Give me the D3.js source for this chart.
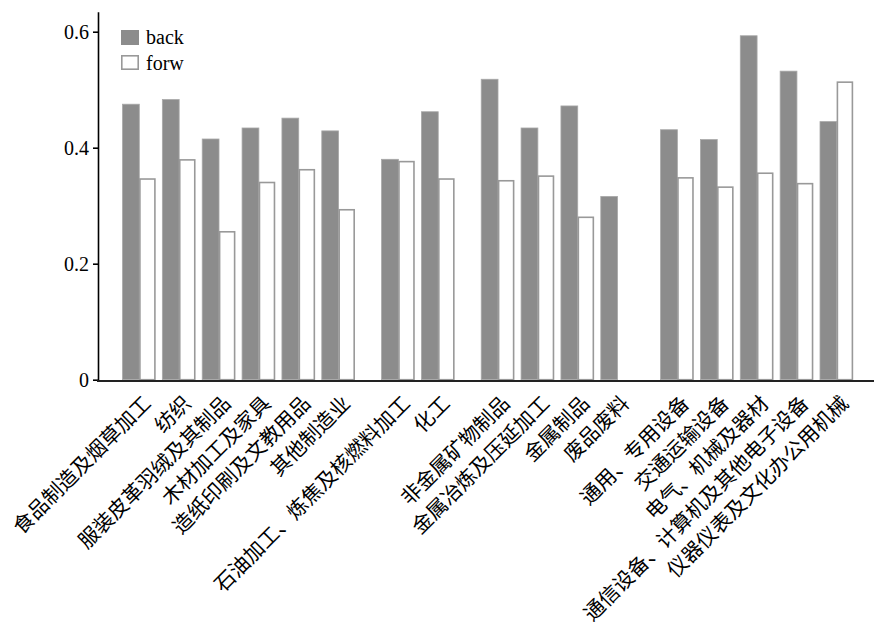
<!DOCTYPE html>
<html>
<head>
<meta charset="utf-8">
<script src="https://cdn.jsdelivr.net/npm/d3@7"></script>
<style>
body { margin:0; background:#fff; }
text { font-family: "Liberation Serif", "DejaVu Serif", serif; }
.cat { font-family: "Noto Sans CJK SC", sans-serif; }
</style>
</head>
<body>
<div id="graph"></div>
<script>
// industries, in order left to right
var categories = ["食品制造及烟草加工","纺织","服装皮革羽绒及其制品","木材加工及家具","造纸印刷及文教用品","其他制造业",
	"石油加工、炼焦及核燃料加工","化工",
	"非金属矿物制品","金属冶炼及压延加工","金属制品","废品废料",
	"通用、专用设备","交通运输设备","电气、机械及器材","通信设备、计算机及其他电子设备","仪器仪表及文化办公用机械"];
// which block each industry belongs to (gaps between blocks)
var groups = [0,0,0,0,0,0, 1,1, 2,2,2,2, 3,3,3,3,3];
var back = [0.475,0.483,0.415,0.434,0.451,0.429, 0.380,0.462, 0.518,0.434,0.472,0.316, 0.431,0.414,0.593,0.532,0.445];
var forw = [0.346,0.379,0.255,0.340,0.362,0.293, 0.376,0.346, 0.343,0.351,0.280,0, 0.348,0.332,0.356,0.338,0.513];
var yTicks = [0,0.2,0.4,0.6];
var seriesNames = ["back","forw"];

var width=874, height=625;
var barW=16.8;

var graph=d3.select("div#graph")
	.append("svg")
	.attr("width", width)
	.attr("height", height);

// slot position = index + half a slot for each group gap
var xScale = d3.scaleLinear()
	.domain([0,17.5])
	.range([122.5,820]);
var pos = function(i) { return xScale(i+0.5*groups[i]); };

var yScale = d3.scaleLinear()
	.domain([0,0.6345])
	.range([379.7,11.7]);

var data = categories.map(function(c,i){ return {name:c, back:back[i], forw:forw[i], i:i}; });

graph.selectAll("rect.back").data(data).enter()
	.append("rect")
	.attr("class","back")
	.attr("x", d => pos(d.i))
	.attr("y", d => yScale(d.back))
	.attr("width", barW)
	.attr("height", d => yScale(0)-yScale(d.back))
	.attr("fill","#8c8c8c")
	.attr("stroke","#a8a8a8")
	.attr("stroke-width",0.8);

graph.selectAll("rect.forw").data(data.filter(d => d.forw>0)).enter()
	.append("rect")
	.attr("class","forw")
	.attr("x", d => pos(d.i)+barW+0.6)
	.attr("y", d => yScale(d.forw))
	.attr("width", barW-1.8)
	.attr("height", d => yScale(0)-yScale(d.forw))
	.attr("fill","#fff")
	.attr("stroke","#999")
	.attr("stroke-width",1.6);

var yAxis = d3.axisLeft(yScale)
	.tickValues(yTicks)
	.tickSize(5)
	.tickSizeOuter(0)
	.tickPadding(4)
	.tickFormat(d => d==0 ? "0" : d3.format(".1f")(d));

graph.append("g")
	.attr("class","y axis")
	.attr("transform", "translate(98,0)")
	.call(yAxis)
	.call(g => g.selectAll("text").attr("font-family","Liberation Serif").attr("font-size",20).attr("fill","#000"))
	.call(g => g.selectAll("path,line").attr("stroke","#000").attr("stroke-width",1.6));

// x axis: plain baseline, no ticks
graph.append("line")
	.attr("x1",97).attr("x2",width)
	.attr("y1",yScale(0)+1.2).attr("y2",yScale(0)+1.2)
	.attr("stroke","#222")
	.attr("stroke-width",2);

// rotated category labels
graph.selectAll("text.cat").data(data).enter()
	.append("text")
	.attr("class","cat")
	.attr("font-size",20.5)
	.attr("text-anchor","end")
	.attr("transform", d => "translate(" + (pos(d.i)+barW+13) + "," + (yScale(0)+25) + ") rotate(-45)")
	.text(d => d.name);

// legend
var legend=graph.append("g").attr("class","legend");
legend.append("rect").attr("x",121).attr("y",30).attr("width",18).attr("height",15).attr("fill","#8c8c8c");
legend.append("rect").attr("x",121.8).attr("y",55.8).attr("width",16.4).attr("height",13.4).attr("fill","#fff").attr("stroke","#999").attr("stroke-width",1.6);
legend.selectAll("text").data(seriesNames).enter()
	.append("text")
	.attr("x",146)
	.attr("y",(d,i) => 44+i*25.5)
	.attr("font-size",20)
	.text(d => d);
</script>
</body>
</html>
